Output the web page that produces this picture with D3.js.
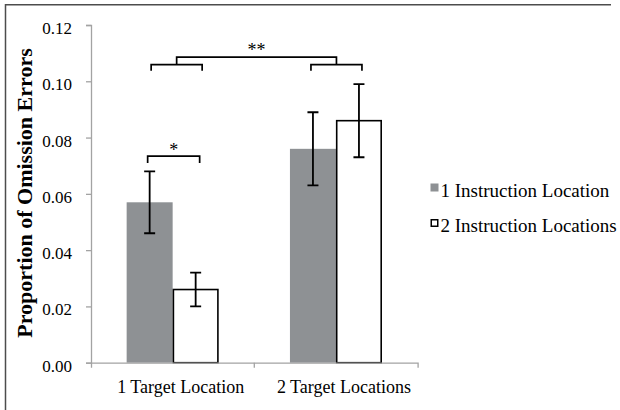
<!DOCTYPE html>
<html>
<head>
<meta charset="utf-8">
<script src="https://cdn.jsdelivr.net/npm/d3@7"></script>
<style>
  html, body { margin: 0; padding: 0; background: #fff; }
  svg { display: block; font-family: "Liberation Serif", "Times New Roman", serif; }
</style>
</head>
<body>
<svg id="chart" width="620" height="410"></svg>
<script>
// Omission error proportions by target locations and instruction locations
const categories = ["1 Target Location", "2 Target Locations"];
const series = ["1 Instruction Location", "2 Instruction Locations"];
const oneInstruction = [0.057, 0.076];
const twoInstructions = [0.026, 0.086];
const oneInstructionErr = [0.011, 0.013];
const twoInstructionsErr = [0.006, 0.013];
const yTicks = [0, 0.02, 0.04, 0.06, 0.08, 0.10, 0.12];

// Significance brackets (heights in data units)
const withinLevel = 0.0734, withinDrop = 0.0024, withinLabel = "*";
const betweenLevel = 0.1086, betweenSubLevel = 0.1059, betweenDrop = 0.0022, betweenLabel = "**";

const values = [oneInstruction, twoInstructions];
const errors = [oneInstructionErr, twoInstructionsErr];
const fills = ["#8e9194", "#ffffff"];

const svg = d3.select("#chart");

// Frame
svg.append("path")
  .attr("d", "M5.5,410 V4.75 H611")
  .attr("fill", "none")
  .attr("stroke", "#4d4d4d")
  .attr("stroke-width", 1.5);

const y = d3.scaleLinear().domain([0, 0.12]).range([362.7, 25]);
const x0 = d3.scaleBand().domain(categories).range([91, 417.6]).padding(0);
const x1 = d3.scaleBand().domain(series).range([0, x0.bandwidth()]).paddingInner(0).paddingOuter(0.775);

const rows = [];
categories.forEach((c, ci) => series.forEach((s, si) => rows.push({
  c, s, si, v: values[si][ci], e: errors[si][ci]
})));

// Bars
const bars = svg.append("g");
bars.selectAll("rect").data(rows).join("rect")
  .attr("x", d => x0(d.c) + x1(d.s) + (d.si === 1 ? 0.75 : 0))
  .attr("width", d => x1.bandwidth() - (d.si === 1 ? 1.5 : 0))
  .attr("y", d => y(d.v))
  .attr("height", d => y(0) - y(d.v))
  .attr("fill", d => fills[d.si])
  .attr("stroke", d => d.si === 1 ? "#000" : "none")
  .attr("stroke-width", 1.6);

// Axes
const yAxis = svg.append("g")
  .attr("transform", "translate(91,0)")
  .call(d3.axisLeft(y).tickValues(yTicks).tickFormat(d3.format(".2f")).tickSize(5).tickSizeOuter(5).tickPadding(14));
yAxis.selectAll("path, line").attr("stroke", "#a3a3a3").attr("stroke-width", 1.3);
yAxis.selectAll("text")
  .attr("font-family", "Liberation Serif")
  .attr("font-size", 17)
  .attr("fill", "#000")
  .attr("dy", "0.5em");

const xAxis = svg.append("g")
  .attr("transform", `translate(0,${y(0)})`)
  .call(d3.axisBottom(x0).tickSize(0).tickSizeOuter(5).tickPadding(0));
xAxis.selectAll("path").attr("stroke", "#a3a3a3").attr("stroke-width", 1.3);
xAxis.selectAll("text")
  .attr("font-family", "Liberation Serif")
  .attr("font-size", 18)
  .attr("fill", "#000")
  .attr("y", 30)
  .attr("dy", 0)
  .attr("dx", 8);
// Boundary tick between the two categories
xAxis.append("line")
  .attr("x1", x0(categories[1])).attr("x2", x0(categories[1]))
  .attr("y1", 0).attr("y2", 5)
  .attr("stroke", "#a3a3a3").attr("stroke-width", 1.3);

// Error bars
const cx = d => x0(d.c) + x1(d.s) + x1.bandwidth() / 2;
const eb = svg.append("g").attr("stroke", "#000").attr("stroke-width", 1.8).attr("fill", "none");
eb.selectAll("path").data(rows).join("path")
  .attr("d", d => {
    const x = cx(d), t = y(d.v + d.e), b = y(d.v - d.e);
    return `M${x},${t}V${b}M${x - 5.5},${t}H${x + 5.5}M${x - 5.5},${b}H${x + 5.5}`;
  });

// Significance brackets
const barCenter = (ci, si) => x0(categories[ci]) + x1(series[si]) + x1.bandwidth() / 2;
const bracket = (xa, xb, level, drop) =>
  `M${xa},${y(level - drop)}V${y(level)}H${xb}V${y(level - drop)}`;

const br = svg.append("g").attr("stroke", "#000").attr("stroke-width", 1.7).attr("fill", "none");
const starFont = { "font-family": "Liberation Serif", "font-size": 18, "text-anchor": "middle" };

// Within first category
const wa = barCenter(0, 0) - 2, wb = barCenter(0, 1) + 4;
br.append("path").attr("d", bracket(wa, wb, withinLevel, withinDrop));
const t1 = svg.append("text").attr("x", (wa + wb) / 2).attr("y", y(withinLevel) - 0.5).text(withinLabel);
Object.entries(starFont).forEach(([k, v]) => t1.attr(k, v));

// Between categories
const la = barCenter(0, 0) + 1.5, lb = barCenter(0, 1) + 6.5;
const ra = barCenter(1, 0) - 2, rb = barCenter(1, 1) + 3;
br.append("path").attr("d", bracket(la, lb, betweenSubLevel, betweenDrop));
br.append("path").attr("d", bracket(ra, rb, betweenSubLevel, betweenDrop));
const ma = (la + lb) / 2, mb = (ra + rb) / 2;
br.append("path").attr("d", bracket(ma, mb, betweenLevel, betweenLevel - betweenSubLevel));
const t2 = svg.append("text").attr("x", (ma + mb) / 2).attr("y", y(betweenLevel) - 1.5).text(betweenLabel);
Object.entries(starFont).forEach(([k, v]) => t2.attr(k, v));

// Y axis title
svg.append("text")
  .attr("transform", "translate(31.5,193) rotate(-90)")
  .attr("text-anchor", "middle")
  .attr("font-family", "Liberation Serif")
  .attr("font-weight", "bold")
  .attr("font-size", 22)
  .text("Proportion of Omission Errors");

// Legend
const legend = svg.append("g").attr("transform", "translate(430.5,183.5)");
series.forEach((s, i) => {
  const g = legend.append("g").attr("transform", `translate(0,${i * 35.5})`);
  g.append("rect")
    .attr("x", i === 1 ? 0.75 : 0).attr("y", i === 1 ? 0.75 : 0)
    .attr("width", i === 1 ? 6.5 : 8).attr("height", i === 1 ? 6.5 : 8)
    .attr("fill", fills[i])
    .attr("stroke", i === 1 ? "#000" : "none")
    .attr("stroke-width", 1.5);
  g.append("text")
    .attr("x", 10).attr("y", 13)
    .attr("font-family", "Liberation Serif")
    .attr("font-size", 19)
    .text(s);
});
</script>
</body>
</html>
